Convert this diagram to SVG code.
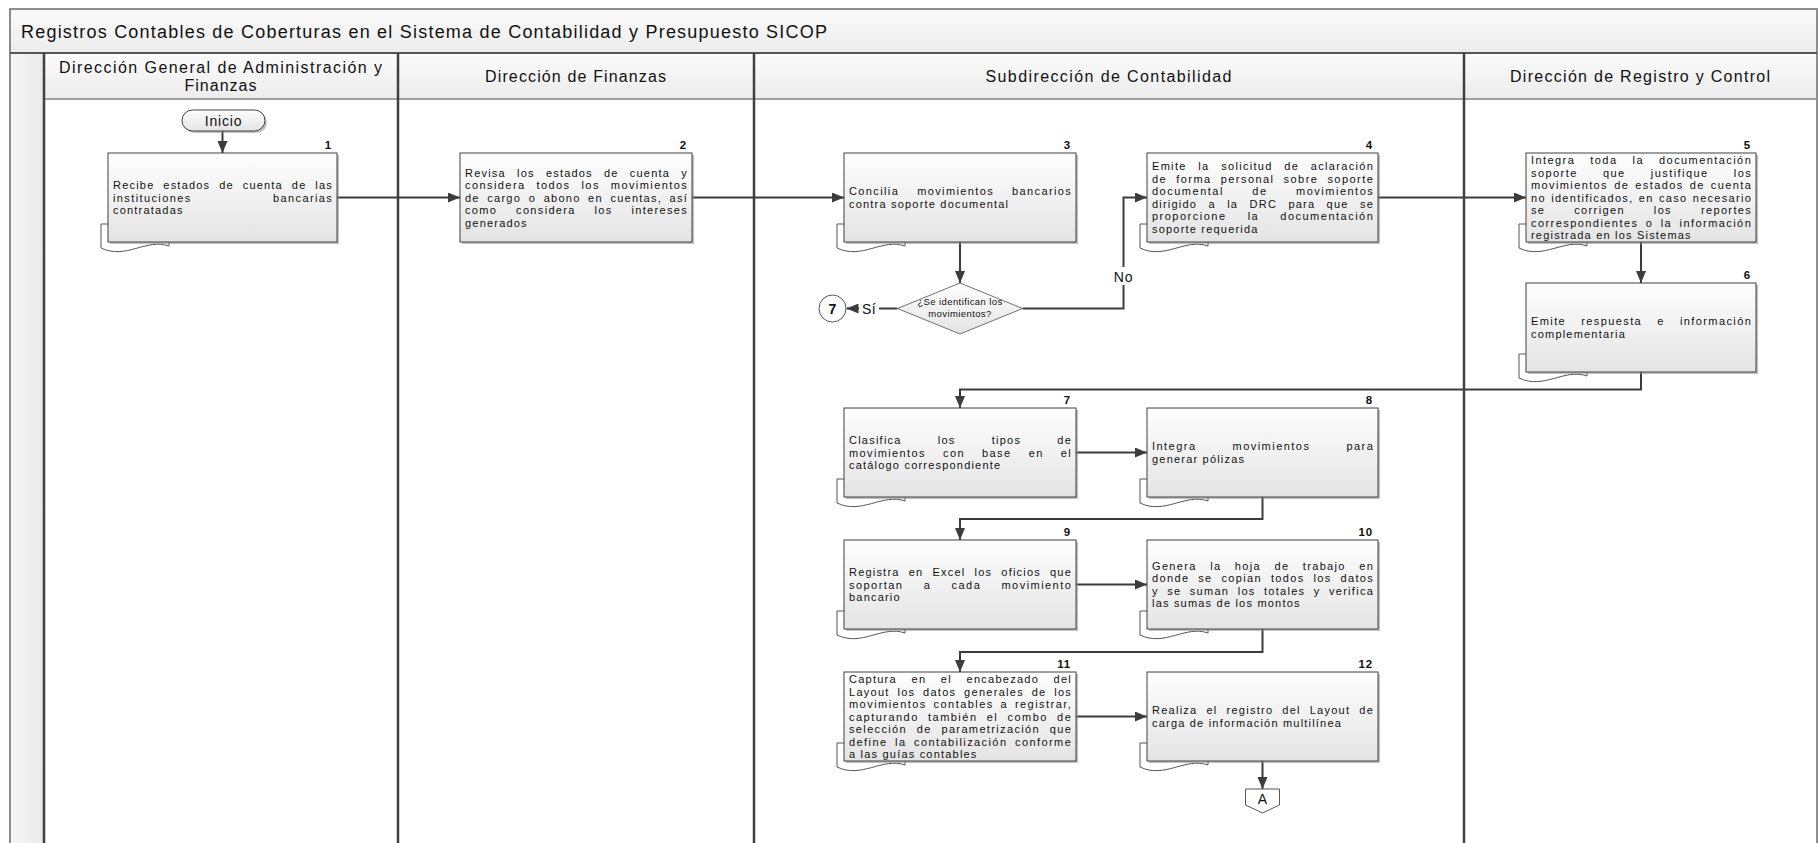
<svg xmlns="http://www.w3.org/2000/svg" width="1818" height="843" viewBox="0 0 1818 843">
  <defs>
    <linearGradient id="gBox" x1="0" y1="0" x2="0" y2="1">
      <stop offset="0" stop-color="#fefefe"/>
      <stop offset="1" stop-color="#e4e4e4"/>
    </linearGradient>
    <linearGradient id="gHead" x1="0" y1="0" x2="0" y2="1">
      <stop offset="0" stop-color="#fbfbfb"/>
      <stop offset="1" stop-color="#ececec"/>
    </linearGradient>
    <linearGradient id="gStrip" x1="0" y1="0" x2="1" y2="0">
      <stop offset="0" stop-color="#f6f6f6"/>
      <stop offset="1" stop-color="#e9e9e9"/>
    </linearGradient>
    <marker id="arr" viewBox="0 0 12 10" refX="12" refY="5" markerWidth="12" markerHeight="10" markerUnits="userSpaceOnUse" orient="auto">
      <path d="M0,0 L12,5 L0,10 z" fill="#3c3c3c"/>
    </marker>
    <style>
      .frame{fill:none;stroke:#6a6a6a;stroke-width:1.5}
      .lane{stroke:#404040;stroke-width:2.5}
      .hline{stroke:#555;stroke-width:2}
      .hline2{stroke:#a0a0a0;stroke-width:2}
      .title{font-family:"Liberation Sans",Arial,sans-serif;font-size:18px;letter-spacing:1px;fill:#111}
      .hd{font-family:"Liberation Sans",Arial,sans-serif;font-size:16px;letter-spacing:1px;fill:#111;text-anchor:middle}
      .box{fill:url(#gBox);stroke:#404040;stroke-width:1}
      .shd{fill:#8c8c8c;opacity:.55}
      .doc{fill:#fff;stroke:#555;stroke-width:1}
      .t{font-family:"Liberation Sans",Arial,sans-serif;font-size:11px;letter-spacing:1.2px;fill:#111}
      .num{font-family:"Liberation Sans",Arial,sans-serif;font-size:11.5px;font-weight:bold;letter-spacing:.8px;fill:#111;text-anchor:end}
      .lbl{font-family:"Liberation Sans",Arial,sans-serif;font-size:14px;letter-spacing:.8px;fill:#111;text-anchor:middle}
      .small{font-family:"Liberation Sans",Arial,sans-serif;font-size:9.5px;letter-spacing:.4px;fill:#111;text-anchor:middle}
      .conn path{fill:none;stroke:#3c3c3c;stroke-width:2;marker-end:url(#arr)}
    </style>
  </defs>

  <!-- page background -->
  <rect x="0" y="0" width="1818" height="843" fill="#fff"/>

  <!-- pool: title bar, lane headers, left strip -->
  <g id="pool">
    <rect x="10" y="9" width="1807" height="44" fill="url(#gHead)"/>
    <rect x="10" y="53" width="34" height="790" fill="url(#gStrip)"/>
    <rect x="44" y="53" width="1773" height="46" fill="url(#gHead)"/>
    <rect x="10" y="9" width="1807" height="840" class="frame"/>
    <line x1="10" y1="53" x2="1817" y2="53" class="hline"/>
    <line x1="44" y1="99" x2="1817" y2="99" class="hline2"/>
    <line x1="44" y1="53" x2="44" y2="843" class="lane" stroke-width="1.5"/>
    <line x1="398" y1="53" x2="398" y2="843" class="lane"/>
    <line x1="754" y1="53" x2="754" y2="843" class="lane"/>
    <line x1="1464" y1="53" x2="1464" y2="843" class="lane"/>
    <text x="21" y="37.5" class="title" textLength="807" lengthAdjust="spacing">Registros Contables de Coberturas en el Sistema de Contabilidad y Presupuesto SICOP</text>
  </g>

  <g id="lane-dgaf">
    <text x="221" y="72.5" class="hd" textLength="324" lengthAdjust="spacing">Dirección General de Administración y</text>
    <text x="221" y="90.5" class="hd">Finanzas</text>
  </g>
  <g id="lane-df">
    <text x="576" y="82" class="hd" textLength="182" lengthAdjust="spacing">Dirección de Finanzas</text>
  </g>
  <g id="lane-sc">
    <text x="1109" y="82" class="hd" textLength="247" lengthAdjust="spacing">Subdirección de Contabilidad</text>
  </g>
  <g id="lane-drc">
    <text x="1640.5" y="82" class="hd" textLength="261" lengthAdjust="spacing">Dirección de Registro y Control</text>
  </g>

  <!-- connectors -->
  <g id="connectors" class="conn">
    <path d="M222.5,131 V153"/>
    <path d="M337,197.5 H460"/>
    <path d="M692,197.5 H844"/>
    <path d="M960,242 V283"/>
    <path d="M897.5,308.5 H846.5"/>
    <path d="M1022.5,308.5 H1123.5 V197.5 H1147"/>
    <path d="M1378,197.5 H1526"/>
    <path d="M1641,242 V283"/>
    <path d="M1641,372 V389.5 H960 V408"/>
    <path d="M1076,452.5 H1147"/>
    <path d="M1262.5,497 V519 H960 V540"/>
    <path d="M1076,584.5 H1147"/>
    <path d="M1262.5,629 V652 H960 V672"/>
    <path d="M1076,716.5 H1147"/>
    <path d="M1262.5,761 V789"/>
    <rect x="859" y="300" width="20" height="17" fill="#fff"/>
    <text x="869" y="313.5" class="lbl" style="letter-spacing:.3px">Sí</text>
    <rect x="1110" y="267" width="27" height="18" fill="#fff"/>
    <text x="1123.5" y="281.5" class="lbl">No</text>
  </g>

  <!-- start terminator -->
  <g id="inicio">
    <rect x="184" y="112" width="83" height="21" rx="10.5" class="shd"/>
    <rect x="182" y="110" width="83" height="21" rx="10.5" class="box"/>
    <text x="223.5" y="125.5" class="lbl">Inicio</text>
  </g>

  <!-- 1 -->
  <g id="n1">
    <path class="doc" d="M101,224 H169 V246 C146,238 126,260 101,248 Z"/>
    <rect x="110" y="155" width="229" height="89" class="shd"/>
    <rect x="108" y="153" width="229" height="89" class="box"/>
    <text x="332" y="149" class="num">1</text>
    <text x="113" y="189" class="t" textLength="220" lengthAdjust="spacing" word-spacing="4.6">Recibe estados de cuenta de las</text>
    <text x="113" y="201.5" class="t" textLength="220" lengthAdjust="spacing" word-spacing="77">instituciones bancarias</text>
    <text x="113" y="214" class="t">contratadas</text>
  </g>

  <!-- 2 -->
  <g id="n2">
    <rect x="462" y="155" width="232" height="89" class="shd"/>
    <rect x="460" y="153" width="232" height="89" class="box"/>
    <text x="687" y="149" class="num">2</text>
    <text x="465" y="176.5" class="t" textLength="223" lengthAdjust="spacing" word-spacing="7">Revisa los estados de cuenta y</text>
    <text x="465" y="189" class="t" textLength="223" lengthAdjust="spacing" word-spacing="6.5">considera todos los movimientos</text>
    <text x="465" y="201.5" class="t" textLength="223" lengthAdjust="spacing" word-spacing="3.3">de cargo o abono en cuentas, así</text>
    <text x="465" y="214" class="t" textLength="223" lengthAdjust="spacing" word-spacing="14.4">como considera los intereses</text>
    <text x="465" y="226.5" class="t">generados</text>
  </g>

  <!-- 3 -->
  <g id="n3">
    <path class="doc" d="M837,224 H905 V246 C882,238 862,260 837,248 Z"/>
    <rect x="846" y="155" width="232" height="89" class="shd"/>
    <rect x="844" y="153" width="232" height="89" class="box"/>
    <text x="1071" y="149" class="num">3</text>
    <text x="849" y="195.25" class="t" textLength="223" lengthAdjust="spacing" word-spacing="13.6">Concilia movimientos bancarios</text>
    <text x="849" y="207.75" class="t">contra soporte documental</text>
  </g>

  <!-- decision -->
  <g id="decision">
    <path d="M960,283 L1022.5,308.5 L960,334 L897.5,308.5 Z" fill="url(#gBox)" stroke="#707070" stroke-width="1"/>
    <text x="960" y="305" class="small">¿Se identifican los</text>
    <text x="960" y="316.5" class="small">movimientos?</text>
  </g>

  <!-- connector to step 7 -->
  <g id="ref7">
    <circle cx="832.5" cy="308.5" r="13.5" fill="#fff" stroke="#555" stroke-width="1"/>
    <text x="832.5" y="313.5" class="lbl" style="font-weight:bold;letter-spacing:0">7</text>
  </g>

  <!-- 4 -->
  <g id="n4">
    <path class="doc" d="M1140,224 H1208 V246 C1185,238 1165,260 1140,248 Z"/>
    <rect x="1149" y="155" width="231" height="89" class="shd"/>
    <rect x="1147" y="153" width="231" height="89" class="box"/>
    <text x="1373" y="149" class="num">4</text>
    <text x="1152" y="170.25" class="t" textLength="222" lengthAdjust="spacing" word-spacing="7.3">Emite la solicitud de aclaración</text>
    <text x="1152" y="182.75" class="t" textLength="222" lengthAdjust="spacing" word-spacing="4.6">de forma personal sobre soporte</text>
    <text x="1152" y="195.25" class="t" textLength="222" lengthAdjust="spacing" word-spacing="23.9">documental de movimientos</text>
    <text x="1152" y="207.75" class="t" textLength="222" lengthAdjust="spacing" word-spacing="7.1">dirigido a la DRC para que se</text>
    <text x="1152" y="220.25" class="t" textLength="222" lengthAdjust="spacing" word-spacing="16.6">proporcione la documentación</text>
    <text x="1152" y="232.75" class="t">soporte requerida</text>
  </g>

  <!-- 5 -->
  <g id="n5">
    <path class="doc" d="M1519,224 H1587 V246 C1564,238 1544,260 1519,248 Z"/>
    <rect x="1528" y="155" width="230" height="89" class="shd"/>
    <rect x="1526" y="153" width="230" height="89" class="box"/>
    <text x="1751" y="149" class="num">5</text>
    <text x="1531" y="164" class="t" textLength="221" lengthAdjust="spacing" word-spacing="10.6">Integra toda la documentación</text>
    <text x="1531" y="176.5" class="t" textLength="221" lengthAdjust="spacing" word-spacing="20.7">soporte que justifique los</text>
    <text x="1531" y="189" class="t" textLength="221" lengthAdjust="spacing" word-spacing="1.7">movimientos de estados de cuenta</text>
    <text x="1531" y="201.5" class="t" textLength="221" lengthAdjust="spacing" word-spacing="1">no identificados, en caso necesario</text>
    <text x="1531" y="214" class="t" textLength="221" lengthAdjust="spacing" word-spacing="24.5">se corrigen los reportes</text>
    <text x="1531" y="226.5" class="t" textLength="221" lengthAdjust="spacing" word-spacing="2.9">correspondientes o la información</text>
    <text x="1531" y="239" class="t">registrada en los Sistemas</text>
  </g>

  <!-- 6 -->
  <g id="n6">
    <path class="doc" d="M1519,354 H1587 V376 C1564,368 1544,390 1519,378 Z"/>
    <rect x="1528" y="285" width="230" height="89" class="shd"/>
    <rect x="1526" y="283" width="230" height="89" class="box"/>
    <text x="1751" y="279" class="num">6</text>
    <text x="1531" y="325.25" class="t" textLength="221" lengthAdjust="spacing" word-spacing="10.7">Emite respuesta e información</text>
    <text x="1531" y="337.75" class="t">complementaria</text>
  </g>

  <!-- 7 -->
  <g id="n7">
    <path class="doc" d="M837,479 H905 V501 C882,493 862,515 837,503 Z"/>
    <rect x="846" y="410" width="232" height="89" class="shd"/>
    <rect x="844" y="408" width="232" height="89" class="box"/>
    <text x="1071" y="404" class="num">7</text>
    <text x="849" y="444" class="t" textLength="223" lengthAdjust="spacing" word-spacing="31.9">Clasifica los tipos de</text>
    <text x="849" y="456.5" class="t" textLength="223" lengthAdjust="spacing" word-spacing="12.8">movimientos con base en el</text>
    <text x="849" y="469" class="t">catálogo correspondiente</text>
  </g>

  <!-- 8 -->
  <g id="n8">
    <path class="doc" d="M1140,479 H1208 V501 C1185,493 1165,515 1140,503 Z"/>
    <rect x="1149" y="410" width="231" height="89" class="shd"/>
    <rect x="1147" y="408" width="231" height="89" class="box"/>
    <text x="1373" y="404" class="num">8</text>
    <text x="1152" y="450.25" class="t" textLength="222" lengthAdjust="spacing" word-spacing="31.5">Integra movimientos para</text>
    <text x="1152" y="462.75" class="t">generar pólizas</text>
  </g>

  <!-- 9 -->
  <g id="n9">
    <path class="doc" d="M837,611 H905 V633 C882,625 862,647 837,635 Z"/>
    <rect x="846" y="542" width="232" height="89" class="shd"/>
    <rect x="844" y="540" width="232" height="89" class="box"/>
    <text x="1071" y="536" class="num">9</text>
    <text x="849" y="576" class="t" textLength="223" lengthAdjust="spacing" word-spacing="4.9">Registra en Excel los oficios que</text>
    <text x="849" y="588.5" class="t" textLength="223" lengthAdjust="spacing" word-spacing="15.8">soportan a cada movimiento</text>
    <text x="849" y="601" class="t">bancario</text>
  </g>

  <!-- 10 -->
  <g id="n10">
    <path class="doc" d="M1140,611 H1208 V633 C1185,625 1165,647 1140,635 Z"/>
    <rect x="1149" y="542" width="231" height="89" class="shd"/>
    <rect x="1147" y="540" width="231" height="89" class="box"/>
    <text x="1373" y="536" class="num">10</text>
    <text x="1152" y="569.75" class="t" textLength="222" lengthAdjust="spacing" word-spacing="9.1">Genera la hoja de trabajo en</text>
    <text x="1152" y="582.25" class="t" textLength="222" lengthAdjust="spacing" word-spacing="4.5">donde se copian todos los datos</text>
    <text x="1152" y="594.75" class="t" textLength="222" lengthAdjust="spacing" word-spacing="4.1">y se suman los totales y verifica</text>
    <text x="1152" y="607.25" class="t">las sumas de los montos</text>
  </g>

  <!-- 11 -->
  <g id="n11">
    <path class="doc" d="M837,743 H905 V765 C882,757 862,779 837,767 Z"/>
    <rect x="846" y="674" width="232" height="89" class="shd"/>
    <rect x="844" y="672" width="232" height="89" class="box"/>
    <text x="1071" y="668" class="num">11</text>
    <text x="849" y="683" class="t" textLength="223" lengthAdjust="spacing" word-spacing="10.3">Captura en el encabezado del</text>
    <text x="849" y="695.5" class="t" textLength="223" lengthAdjust="spacing" word-spacing="3.4">Layout los datos generales de los</text>
    <text x="849" y="708" class="t" textLength="223" lengthAdjust="spacing" word-spacing="2.3">movimientos contables a registrar,</text>
    <text x="849" y="720.5" class="t" textLength="223" lengthAdjust="spacing" word-spacing="4.7">capturando también el combo de</text>
    <text x="849" y="733" class="t" textLength="223" lengthAdjust="spacing" word-spacing="5.3">selección de parametrización que</text>
    <text x="849" y="745.5" class="t" textLength="223" lengthAdjust="spacing" word-spacing="3.1">define la contabilización conforme</text>
    <text x="849" y="758" class="t">a las guías contables</text>
  </g>

  <!-- 12 -->
  <g id="n12">
    <path class="doc" d="M1140,743 H1208 V765 C1185,757 1165,779 1140,767 Z"/>
    <rect x="1149" y="674" width="231" height="89" class="shd"/>
    <rect x="1147" y="672" width="231" height="89" class="box"/>
    <text x="1373" y="668" class="num">12</text>
    <text x="1152" y="714.25" class="t" textLength="222" lengthAdjust="spacing" word-spacing="4.7">Realiza el registro del Layout de</text>
    <text x="1152" y="726.75" class="t">carga de información multilínea</text>
  </g>

  <!-- off-page connector -->
  <g id="offpage-a">
    <path d="M1245.5,789 H1279.5 V805 L1262.5,813 L1245.5,805 Z" fill="#fff" stroke="#555" stroke-width="1"/>
    <text x="1262.5" y="803.5" class="lbl" style="letter-spacing:0">A</text>
  </g>
</svg>
